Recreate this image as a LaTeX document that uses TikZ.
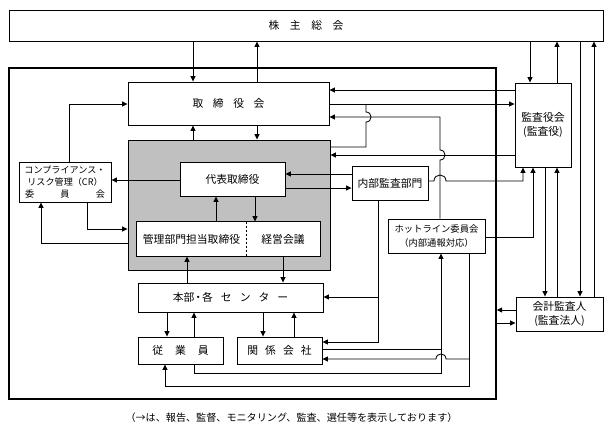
\documentclass[tikz,border=0pt]{standalone}
\usepackage{fontspec}
\setmainfont{Noto Sans CJK JP}
\usetikzlibrary{arrows.meta}
\definecolor{grayfill}{RGB}{192,192,192}
\begin{document}
\begin{tikzpicture}[x=1pt,y=-1pt,
  box/.style={draw, line width=0.9pt, fill=white, inner sep=0pt, align=center, font=\fontsize{10.8}{14}\selectfont},
  conn/.style={line width=0.85pt, -{Triangle[length=5.5pt,width=5pt]}},
  plainline/.style={line width=0.85pt},
]
\useasboundingbox (0,0) rectangle (612,437);
% frame and boxes
\node[box, line width=1.4pt, fill=none, minimum width=487pt, minimum height=331pt] (frame) at (252.5,233.5) {};
\node[box, minimum width=594pt, minimum height=31pt] (soukai) at (306,25.5) {株\hspace{10.5pt}主\hspace{10.5pt}総\hspace{10.5pt}会};
\node[box, minimum width=201pt, minimum height=43pt] (torishimari) at (228.5,103.5) {取\hspace{9.5pt}締\hspace{9.5pt}役\hspace{9.5pt}会};
\node[box, minimum width=56pt, minimum height=84pt] (kansayaku) at (543,125) {監査役会\\(監査役)};
\node[draw, line width=0.9pt, fill=grayfill, inner sep=0pt, minimum width=202pt, minimum height=130pt] (gray) at (229,205) {};
\node[box, minimum width=105pt, minimum height=34pt] (daihyo) at (232.5,179) {代表取締役};
\node[box, font=\fontsize{9.1}{12}\selectfont, minimum width=92pt, minimum height=40pt] (cr) at (65,182) {コンプライアンス・\\リスク管理（CR）\\\makebox[80pt][s]{委\hfill 員\hfill 会}};
\node[box, draw=none, minimum width=109pt, minimum height=34pt] (kanri) at (191.5,239) {管理部門担当取締役};
\node[box, draw=none, minimum width=74pt, minimum height=34pt] (keiei) at (283,239) {経営会議};
\draw[line width=0.9pt] (kanri.north west) rectangle (keiei.south east);
\draw[line width=0.9pt, dash pattern=on 2.5pt off 1.5pt] (kanri.north east) -- (kanri.south east);
\node[box, minimum width=76pt, minimum height=34pt] (naibu) at (390,183) {内部監査部門};
\node[box, font=\fontsize{9.3}{14}\selectfont, minimum width=97pt, minimum height=34pt] (hotline) at (436.5,236) {ホットライン委員会\\（内部通報対応）};
\node[box, minimum width=185pt, minimum height=29pt] (honbu) at (230.5,297.5) {本部\kern-1.5pt・\kern-1.5pt各\hspace{8pt}セ\hspace{8pt}ン\hspace{8pt}タ\hspace{8pt}ー};
\node[box, minimum width=85pt, minimum height=27pt] (jugyoin) at (180.5,350.5) {従\hspace{12pt}業\hspace{12pt}員};
\node[box, minimum width=85pt, minimum height=27pt] (kankei) at (279.5,350.5) {関\hspace{7pt}係\hspace{7pt}会\hspace{7pt}社};
\node[box, minimum width=87pt, minimum height=34pt] (kaikei) at (559.5,314) {会計監査人\\(監査法人)};
\node[inner sep=0pt, font=\fontsize{10.1}{12}\selectfont] (note) at (291.5,418) {（→は、報告、監督、モニタリング、監査、選任等を表示しております）};
% connectors: shareholders meeting
\draw[conn] (soukai.south -| 193,0) -- (torishimari.north -| 193,0);
\draw[conn] (torishimari.north -| 257,0) -- (soukai.south -| 257,0);
\draw[conn] (soukai.south -| 530,0) -- (kansayaku.north -| 530,0);
\draw[conn] (kansayaku.north -| 557,0) -- (soukai.south -| 557,0);
\draw[conn] (soukai.south -| 580,0) -- (kaikei.north -| 580,0);
\draw[conn] (kaikei.north -| 594,0) -- (soukai.south -| 594,0);
% board <-> auditors
\draw[conn] (kansayaku.west |- 0,90) -- (torishimari.east |- 0,90);
\draw[conn] (torishimari.east |- 0,104) -- (kansayaku.west |- 0,104);
\draw[plainline] (gray.east |- 0,147) -- (366,147) -- (366,122) .. controls (372.67,122) and (372.67,112) .. (366,112) -- (366,104);
\draw[conn] (hotline.north -| 440,0) -- (440,160) .. controls (446.67,160) and (446.67,150) .. (440,150) -- (440,117) -- (torishimari.east |- 0,117);
\draw[conn] (kansayaku.west |- 0,155) -- (gray.east |- 0,155);
% CR committee
\draw[conn] (cr.north -| 69,0) -- (69,104) -- (torishimari.west |- 0,104);
\draw[conn] (daihyo.west |- 0,180) -- (cr.east |- 0,180);
\draw[conn] (cr.south -| 87,0) -- (87,229) -- (gray.west |- 0,229);
\draw[conn] (gray.west |- 0,243) -- (41,243) -- (cr.south -| 41,0);
% inside
\draw[conn] (gray.north -| 193,0) -- (torishimari.south -| 193,0);
\draw[conn] (torishimari.south -| 257,0) -- (gray.north -| 257,0);
\draw[conn] (kanri.north -| 216,0) -- (daihyo.south -| 216,0);
\draw[conn] (daihyo.south -| 255,0) -- (keiei.north -| 255,0);
\draw[conn] (honbu.north -| 187,0) -- (kanri.south -| 187,0);
\draw[conn] (keiei.south -| 283,0) -- (honbu.north -| 283,0);
% internal audit
\draw[conn] (naibu.west |- 0,174) -- (daihyo.east |- 0,174);
\draw[conn] (daihyo.east |- 0,188) -- (naibu.west |- 0,188);
\draw[conn] (naibu.east |- 0,181) -- (434,181) .. controls (434,173) and (446,173) .. (446,181) -- (523,181) -- (kansayaku.south -| 523,0);
\draw[conn] (hotline.east |- 0,237) -- (533,237) -- (kansayaku.south -| 533,0);
\draw[conn] (kansayaku.south -| 545,0) -- (kaikei.north -| 545,0);
\draw[conn] (kaikei.north -| 557,0) -- (kansayaku.south -| 557,0);
\draw[conn] (naibu.south -| 378,0) -- (378,342) -- (kankei.east |- 0,342);
\draw[conn] (378,297) -- (honbu.east |- 0,297);
% employees, subsidiaries
\draw[conn] (honbu.south -| 167,0) -- (jugyoin.north -| 167,0);
\draw[conn] (jugyoin.north -| 194,0) -- (honbu.south -| 194,0);
\draw[conn] (honbu.south -| 263,0) -- (kankei.north -| 263,0);
\draw[conn] (kankei.north -| 294,0) -- (honbu.south -| 294,0);
% hotline
\draw[plainline] (kankei.east |- 0,349) -- (441,349);
\draw[conn] (jugyoin.south -| 194,0) -- (194,373) -- (441,373) -- (hotline.south -| 441,0);
\draw[conn] (hotline.south -| 469,0) -- (469,386) -- (165,386) -- (jugyoin.south -| 165,0);
\draw[conn] (469,359) -- (446,359) .. controls (446,352.33) and (436,352.33) .. (436,359) -- (kankei.east |- 0,359);
% accounting auditor
\draw[conn] (kaikei.west |- 0,310) -- (frame.east |- 0,310);
\draw[conn] (frame.east |- 0,323) -- (kaikei.west |- 0,323);
\end{tikzpicture}
\end{document}
